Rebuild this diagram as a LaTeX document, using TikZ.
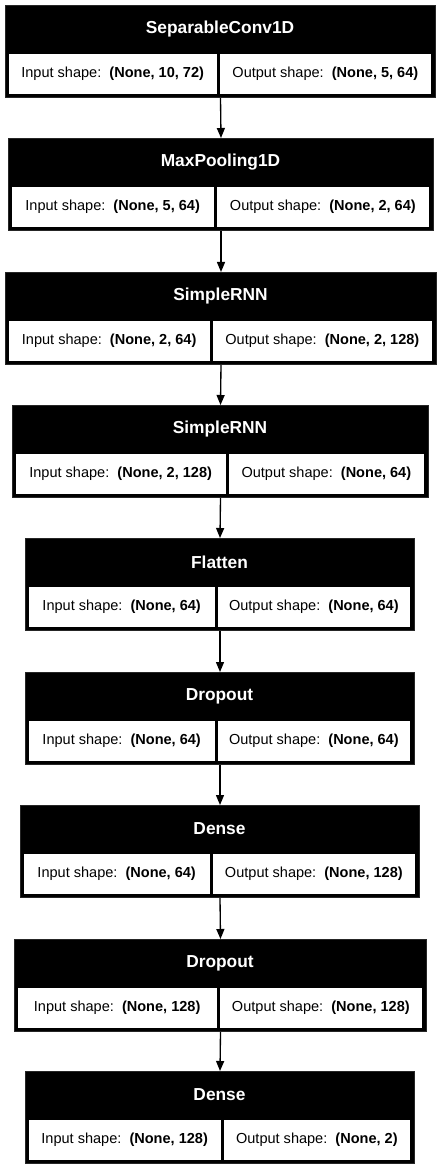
\documentclass[tikz,border=0pt]{standalone}
\usepackage{fontspec}
\setmainfont{Liberation Sans}
\usepackage{tikz}
\usetikzlibrary{arrows.meta}

\tikzset{
	layerbox/.style={fill=black, draw=black!85, line width=0.75pt, minimum height=69pt, inner sep=0pt},
	headtext/.style={text=white, font=\fontsize{13}{15}\selectfont\bfseries, inner sep=0pt},
	cellbox/.style={fill=white, draw=black, line width=0.6pt, minimum height=30.75pt, inner sep=0pt, font=\fontsize{10.9}{13}\selectfont}
}

% #1 name, #2 top, #3 left, #4 right, #5 divider, #6 title, #7 input, #8 output
\newcommand{\layer}[8]{%
	\node[layerbox, anchor=north west, minimum width={(#4-#3)*0.75pt}] (#1) at (#3,#2) {};
	\node[headtext] (#1-title) at ({(#3+#4)/2},#2+24) {#6};
	\node[cellbox, anchor=north west, minimum width={(#5-#3-4.5)*0.75pt}] (#1-in) at (#3+3,#2+48) {Input shape:\ \ \textbf{#7}};
	\node[cellbox, anchor=north east, minimum width={(#4-#5-4.5)*0.75pt}] (#1-out) at (#4-3,#2+48) {Output shape:\ \ \textbf{#8}};
}

\begin{document}
\begin{tikzpicture}[x=0.75pt, y=-0.75pt, >={Triangle[width=6pt, length=7.5pt]}]
	\useasboundingbox (0,0) rectangle (440,1169);
	\layer{conv}{5}{5}{435}{218}{SeparableConv1D}{(None, 10, 72)}{(None, 5, 64)}
	\layer{pool}{138}{8}{433}{215}{MaxPooling1D}{(None, 5, 64)}{(None, 2, 64)}
	\layer{rnna}{272}{5}{436}{211}{SimpleRNN}{(None, 2, 64)}{(None, 2, 128)}
	\layer{rnnb}{405}{12}{428}{227}{SimpleRNN}{(None, 2, 128)}{(None, 64)}
	\layer{flat}{538}{25}{414}{216}{Flatten}{(None, 64)}{(None, 64)}
	\layer{dropa}{672}{25}{414}{216}{Dropout}{(None, 64)}{(None, 64)}
	\layer{densea}{805}{20}{419}{211}{Dense}{(None, 64)}{(None, 128)}
	\layer{dropb}{939}{14}{426}{218}{Dropout}{(None, 128)}{(None, 128)}
	\layer{denseb}{1071}{25}{414}{222}{Dense}{(None, 128)}{(None, 2)}
	% connectors
	\draw[->, line width=1pt] (conv.south) -- (pool.north);
	\draw[->, line width=1pt] (pool.south) -- (rnna.north);
	\draw[->, line width=1pt] (rnna.south) -- (rnnb.north);
	\draw[->, line width=1pt] (rnnb.south) -- (flat.north);
	\draw[->, line width=1pt] (flat.south) -- (dropa.north);
	\draw[->, line width=1pt] (dropa.south) -- (densea.north);
	\draw[->, line width=1pt] (densea.south) -- (dropb.north);
	\draw[->, line width=1pt] (dropb.south) -- (denseb.north);
\end{tikzpicture}
\end{document}
